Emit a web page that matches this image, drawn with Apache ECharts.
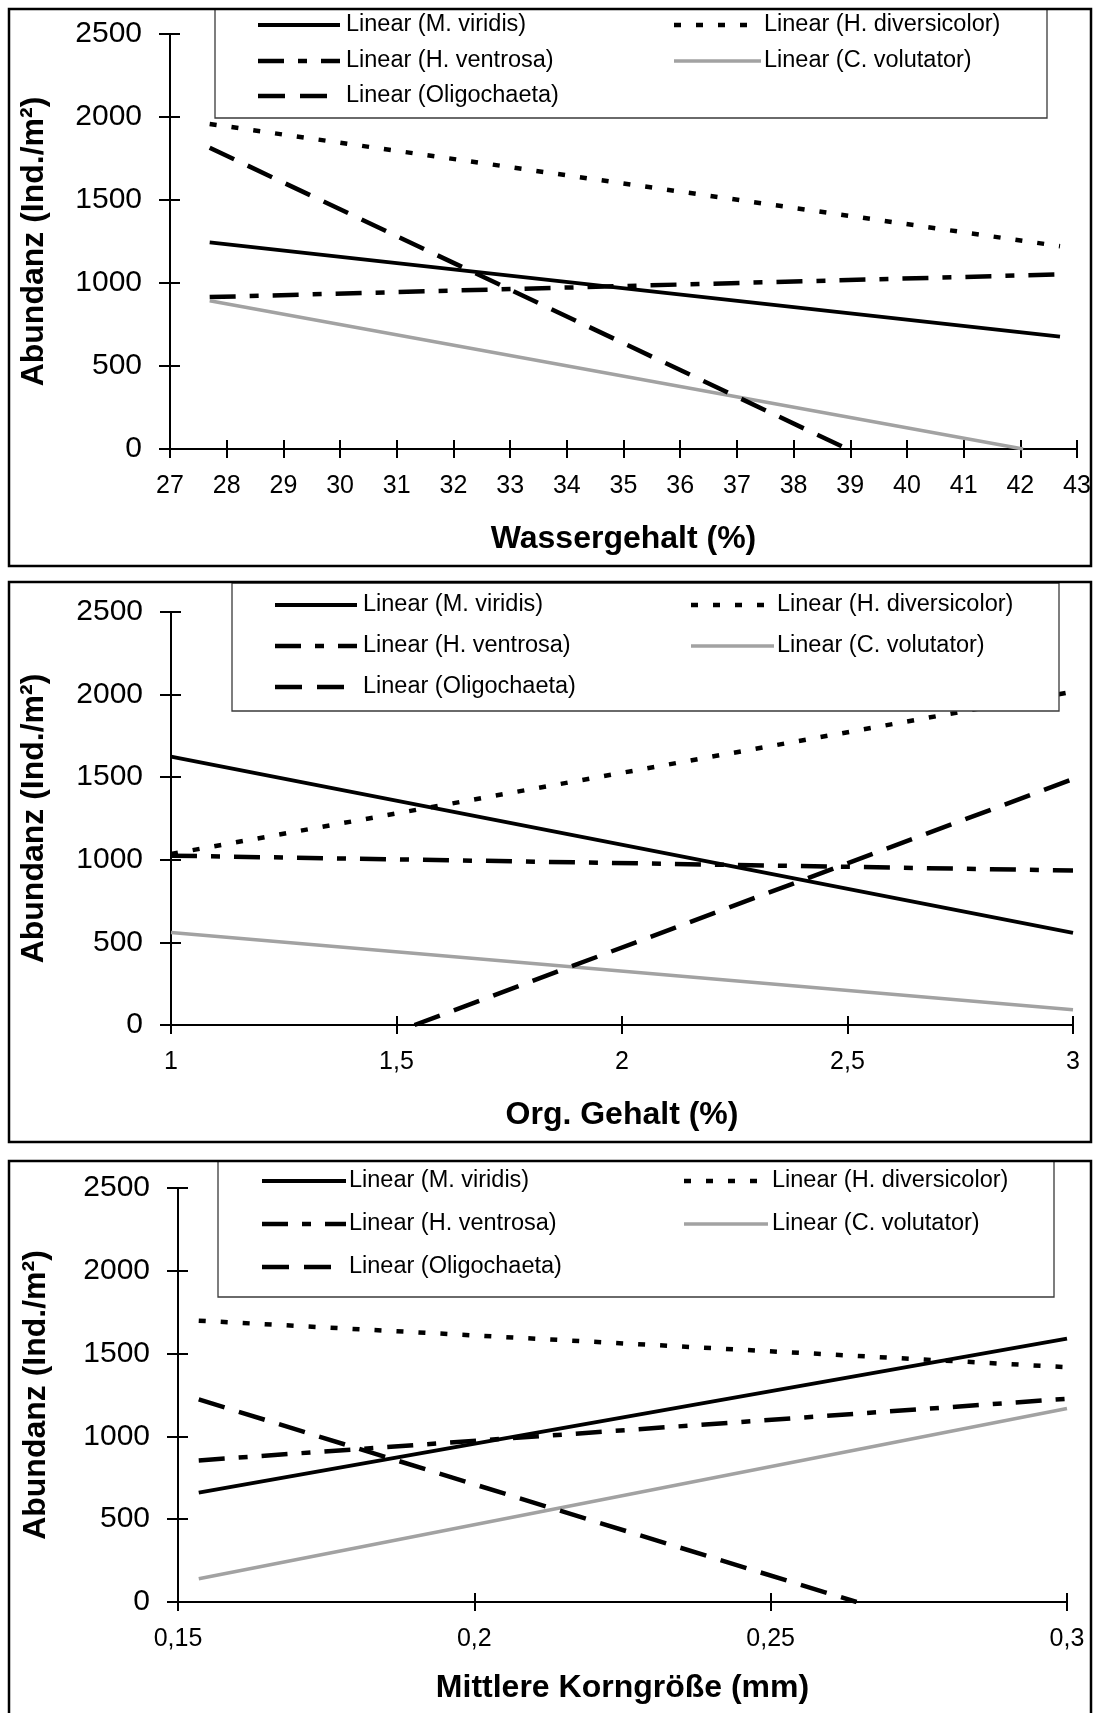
<!DOCTYPE html>
<html>
<head>
<meta charset="utf-8">
<title>Abundanz und Sedimentparameter</title>
<script src="https://cdn.jsdelivr.net/npm/echarts@6/dist/echarts.min.js"></script>
<style>
  html, body { margin: 0; padding: 0; background: #ffffff; }
  #chart { width: 1095px; height: 1713px; }
</style>
</head>
<body>
<div id="chart"></div>
<script>
// ---- Data: endpoints of the linear trend lines [x, Abundanz (Ind./m²)] ----
const legendNames = [
  'Linear (M. viridis)',
  'Linear (H. diversicolor)',
  'Linear (H. ventrosa)',
  'Linear (C. volutator)',
  'Linear (Oligochaeta)'
];

// Wassergehalt (%)
const wasserViridis      = [[27.7, 1245], [42.7, 677]];
const wasserDiversicolor = [[27.7, 1958], [42.7, 1222]];
const wasserVentrosa     = [[27.7, 915],  [42.7, 1052]];
const wasserVolutator    = [[27.7, 893],  [42.05, 0]];
const wasserOligochaeta  = [[27.7, 1815], [38.95, 0]];

// Org. Gehalt (%)
const orgViridis      = [[1, 1625], [3, 558]];
const orgDiversicolor = [[1, 1035], [3, 2018]];
const orgVentrosa     = [[1, 1025], [3, 935]];
const orgVolutator    = [[1, 560],  [3, 92]];
const orgOligochaeta  = [[1.54, 0], [3, 1489]];

// Mittlere Korngröße (mm)
const kornViridis      = [[0.1535, 660],  [0.3, 1591]];
const kornDiversicolor = [[0.1535, 1699], [0.3, 1418]];
const kornVentrosa     = [[0.1535, 855],  [0.3, 1227]];
const kornVolutator    = [[0.1535, 140],  [0.3, 1169]];
const kornOligochaeta  = [[0.1535, 1223], [0.2645, 0]];

// Axis scales and tick labels
const yTicks = [0, 500, 1000, 1500, 2000, 2500];
const wasserTicks = [27, 28, 29, 30, 31, 32, 33, 34, 35, 36, 37, 38, 39, 40, 41, 42, 43];
const orgTicks = [1, 1.5, 2, 2.5, 3];
const kornTicks = [0.15, 0.2, 0.25, 0.3];

const yTitle = 'Abundanz (Ind./m²)';
const xTitles = ['Wassergehalt (%)', 'Org. Gehalt (%)', 'Mittlere Korngröße (mm)'];

// ---- Styles ----
const FONT = '"Liberation Sans", Arial, Helvetica, sans-serif';
const lineStyles = [
  { color: '#000000', width: 3.8, type: 'solid' },          // M. viridis
  { color: '#000000', width: 4.5, type: [7, 15] },          // H. diversicolor
  { color: '#000000', width: 4.5, type: [26, 14, 9, 14] },  // H. ventrosa
  { color: '#a2a2a2', width: 3.5, type: 'solid' },          // C. volutator
  { color: '#000000', width: 4.5, type: [27, 15] }          // Oligochaeta
];

// Panel layout (pixels)
const panels = [
  {
    series: [wasserViridis, wasserDiversicolor, wasserVentrosa, wasserVolutator, wasserOligochaeta],
    xTicks: wasserTicks, xTitle: xTitles[0],
    frame: { x: 9, y: 9, w: 1082, h: 557 },
    grid: { left: 170, top: 34, width: 907, height: 415 },
    yNameGap: 120, xNameGap: 74,
    legend: { x: 215, y: 9, w: 832, h: 109, rows: [25, 61, 96],
              cols: [{ x1: 258, x2: 340, tx: 346 }, { x1: 674, x2: 761, tx: 764 }] }
  },
  {
    series: [orgViridis, orgDiversicolor, orgVentrosa, orgVolutator, orgOligochaeta],
    xTicks: orgTicks, xTitle: xTitles[1],
    frame: { x: 9, y: 582, w: 1082, h: 560 },
    grid: { left: 171, top: 612, width: 902, height: 413 },
    yNameGap: 121, xNameGap: 74,
    legend: { x: 232, y: 583, w: 827, h: 128, rows: [605, 646, 687],
              cols: [{ x1: 275, x2: 357, tx: 363 }, { x1: 691, x2: 774, tx: 777 }] }
  },
  {
    series: [kornViridis, kornDiversicolor, kornVentrosa, kornVolutator, kornOligochaeta],
    xTicks: kornTicks, xTitle: xTitles[2],
    frame: { x: 9, y: 1161, w: 1082, h: 620 },
    grid: { left: 178, top: 1188, width: 889, height: 414 },
    yNameGap: 126, xNameGap: 70,
    legend: { x: 218, y: 1161, w: 836, h: 136, rows: [1181, 1224, 1267],
              cols: [{ x1: 262, x2: 346, tx: 349 }, { x1: 684, x2: 768, tx: 772 }] }
  }
];

// Legend slot for each series: [row, column]
const legendSlots = [[0, 0], [0, 1], [1, 0], [1, 1], [2, 0]];

const decimalComma = v => String(+Number(v).toFixed(4)).replace('.', ',');
const plainNumber = v => String(Math.round(v));

const option = {
  backgroundColor: '#ffffff',
  animation: false,
  grid: [], xAxis: [], yAxis: [], series: [], graphic: []
};

panels.forEach((p, i) => {
  option.grid.push({ left: p.grid.left, top: p.grid.top, width: p.grid.width, height: p.grid.height, containLabel: false });

  const xMin = p.xTicks[0], xMax = p.xTicks[p.xTicks.length - 1];
  const xStep = +(p.xTicks[1] - p.xTicks[0]).toFixed(6);
  const yMin = yTicks[0], yMax = yTicks[yTicks.length - 1], yStep = yTicks[1] - yTicks[0];

  // main x axis: line, outer ticks, labels, title
  option.xAxis.push({
    type: 'value', gridIndex: i, position: 'bottom',
    min: xMin, max: xMax, interval: xStep,
    axisLine: { show: true, onZero: false, lineStyle: { color: '#000', width: 2 } },
    axisTick: { show: true, inside: false, length: 9, lineStyle: { color: '#000', width: 2 } },
    axisLabel: { show: true, margin: 25, color: '#000', fontFamily: FONT, fontSize: 25, formatter: decimalComma },
    splitLine: { show: false },
    name: p.xTitle, nameLocation: 'middle', nameGap: p.xNameGap,
    nameTextStyle: { color: '#000', fontFamily: FONT, fontSize: 32, fontWeight: 'bold' }
  });
  // companion x axis: inner half of the crossing ticks
  option.xAxis.push({
    type: 'value', gridIndex: i, position: 'bottom',
    min: xMin, max: xMax, interval: xStep,
    axisLine: { show: false, onZero: false },
    axisTick: { show: true, inside: true, length: 9, lineStyle: { color: '#000', width: 2 } },
    axisLabel: { show: false }, splitLine: { show: false }
  });
  // main y axis
  option.yAxis.push({
    type: 'value', gridIndex: i, position: 'left',
    min: yMin, max: yMax, interval: yStep,
    axisLine: { show: true, onZero: false, lineStyle: { color: '#000', width: 2 } },
    axisTick: { show: true, inside: false, length: 11, lineStyle: { color: '#000', width: 2 } },
    axisLabel: { show: true, margin: 28, color: '#000', fontFamily: FONT, fontSize: 30, formatter: plainNumber },
    splitLine: { show: false },
    name: yTitle, nameLocation: 'middle', nameGap: p.yNameGap,
    nameTextStyle: { color: '#000', fontFamily: FONT, fontSize: 32, fontWeight: 'bold' }
  });
  // companion y axis: inner half of the crossing ticks
  option.yAxis.push({
    type: 'value', gridIndex: i, position: 'left',
    min: yMin, max: yMax, interval: yStep,
    axisLine: { show: false, onZero: false },
    axisTick: { show: true, inside: true, length: 10, lineStyle: { color: '#000', width: 2 } },
    axisLabel: { show: false }, splitLine: { show: false }
  });

  p.series.forEach((data, k) => {
    const ls = lineStyles[k];
    option.series.push({
      type: 'line', name: legendNames[k],
      xAxisIndex: 2 * i, yAxisIndex: 2 * i,
      data: data, symbol: 'none', silent: true, clip: true, z: 3,
      lineStyle: { color: ls.color, width: ls.width, type: ls.type, cap: 'butt' }
    });
  });

  // panel frame
  option.graphic.push({
    type: 'rect', z: 200, silent: true,
    shape: { x: p.frame.x, y: p.frame.y, width: p.frame.w, height: p.frame.h },
    style: { fill: null, stroke: '#000', lineWidth: 2.5 }
  });
  // legend box
  const L = p.legend;
  option.graphic.push({
    type: 'rect', z: 150, silent: true,
    shape: { x: L.x, y: L.y, width: L.w, height: L.h },
    style: { fill: '#ffffff', stroke: '#3a3a3a', lineWidth: 1.3 }
  });
  legendNames.forEach((name, k) => {
    const [r, c] = legendSlots[k];
    const col = L.cols[c], yy = L.rows[r];
    const ls = lineStyles[k];
    option.graphic.push({
      type: 'line', z: 160, silent: true,
      shape: { x1: col.x1, y1: yy, x2: col.x2, y2: yy },
      style: { stroke: ls.color, lineWidth: ls.width, lineDash: Array.isArray(ls.type) ? ls.type : null, lineCap: 'butt' }
    });
    option.graphic.push({
      type: 'text', z: 160, silent: true,
      x: col.tx, y: yy,
      style: { text: name, fill: '#000', font: '23.5px ' + FONT, textAlign: 'left', textVerticalAlign: 'middle' }
    });
  });
});

const chart = echarts.init(document.getElementById('chart'), null, { renderer: 'canvas', width: 1095, height: 1713 });
chart.setOption(option);
</script>
</body>
</html>
